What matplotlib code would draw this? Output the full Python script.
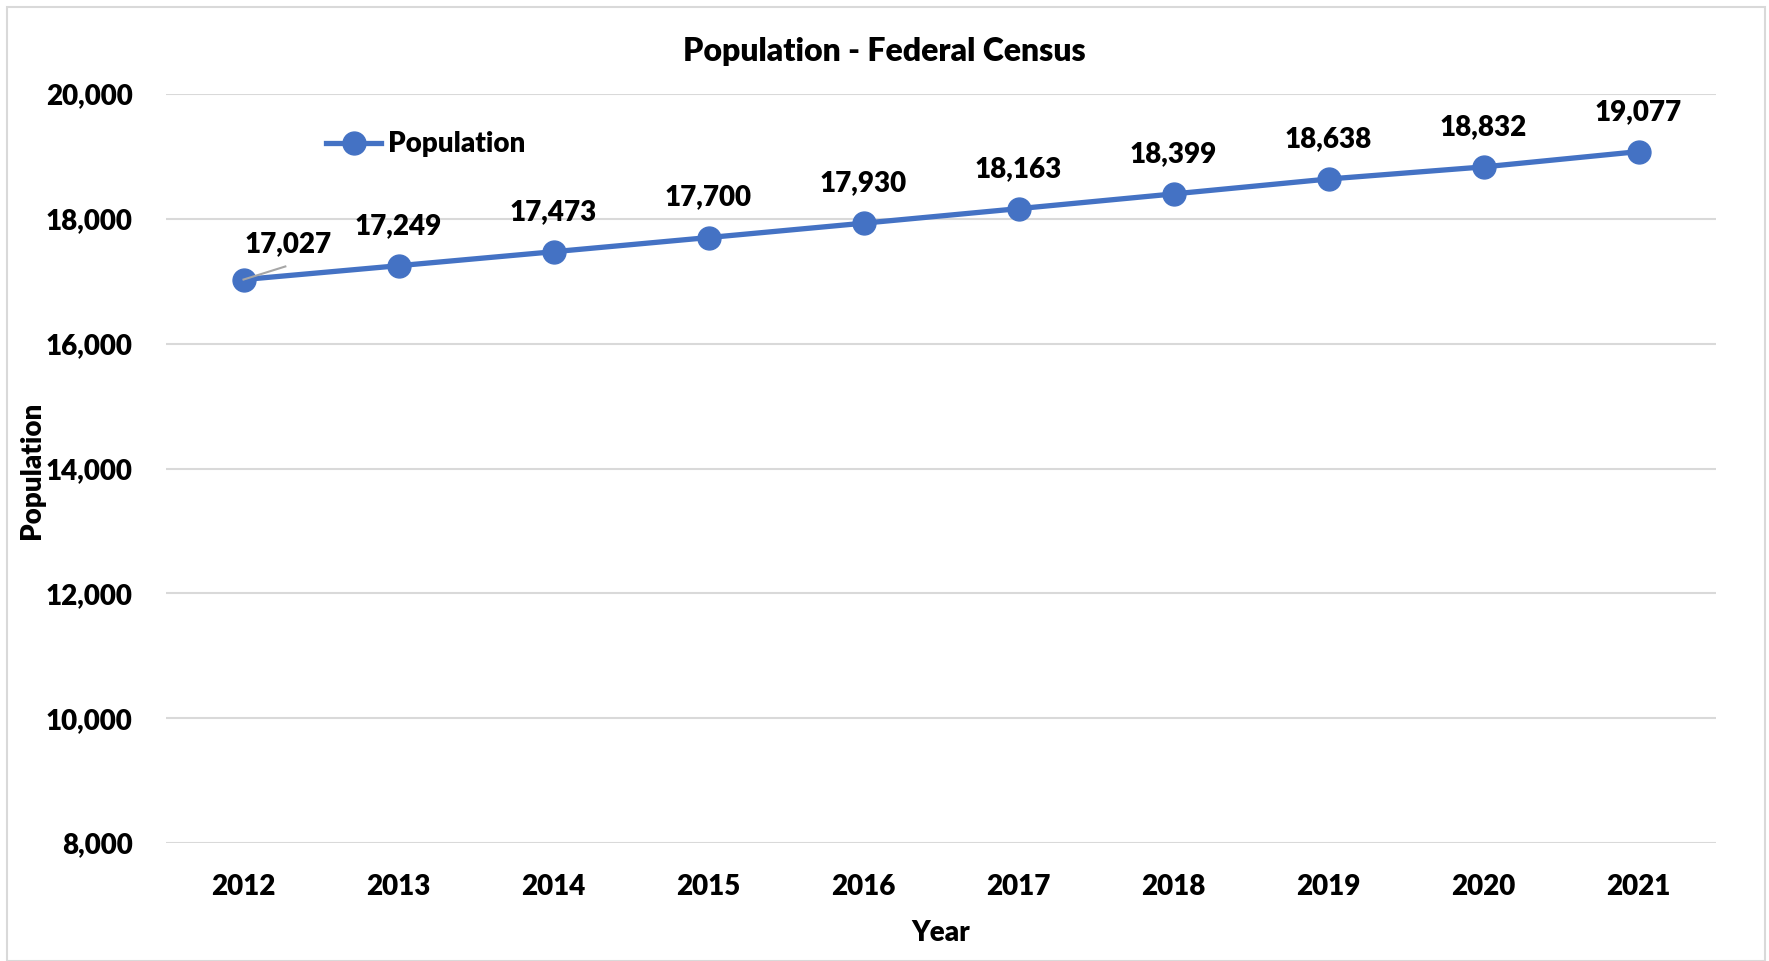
import matplotlib.pyplot as plt

# Данные
years = ['2012', '2013', '2014', '2015', '2016', '2017', '2018', '2019', '2020', '2021']
population = [17027, 17249, 17473, 17700, 17930, 18163, 18399, 18638, 18832, 19077]
y_ticks = [8000, 10000, 12000, 14000, 16000, 18000, 20000]

plt.rcParams['font.family'] = ['Lato', 'DejaVu Sans']
W = 'heavy'
FS = 20

blue = '#4472C4'
fig = plt.figure(figsize=(17.69, 9.61), dpi=100)
ax = fig.add_axes([166 / 1769, 1 - 843 / 961, (1716 - 166) / 1769, (843 - 94) / 961])

x = list(range(len(years)))
ax.plot(x, population, color=blue, lw=3.8, marker='o', ms=16.5, label='Population', zorder=3)

# Подписи значений
for i, v in enumerate(population):
    if i == 0:
        # подпись смещена вправо, с выноской
        lx, ly = i + 0.29, v + 570
        ax.plot([i, lx - 0.02], [v, ly - 360], color='#A6A6A6', lw=1.5, zorder=4)
        ax.text(lx, ly, f'{v:,}', ha='center', va='center', fontsize=FS, fontweight=W)
    else:
        ax.text(i, v + 640, f'{v:,}', ha='center', va='center', fontsize=FS, fontweight=W)

ax.set_xlim(-0.5, len(years) - 0.5)
ax.set_ylim(8000, 20000)
ax.set_yticks(y_ticks)
ax.set_yticklabels([f'{t:,}' for t in y_ticks])
ax.set_xticks(x)
ax.set_xticklabels(years)
ax.tick_params(length=0, labelsize=FS, pad=22)
ax.tick_params(axis='y', pad=24)
for lbl in ax.get_xticklabels() + ax.get_yticklabels():
    lbl.set_fontweight(W)
ax.grid(axis='y', color='#D9D9D9', lw=1.5)
ax.set_axisbelow(True)
for s in ax.spines.values():
    s.set_visible(False)

ax.set_xlabel('Year', fontsize=FS, fontweight=W, labelpad=15)
fig.text(32 / 1769, 1 - 470 / 961, 'Population', rotation=90, ha='center', va='center',
         fontsize=FS, fontweight=W)
fig.text(0.5, 1 - 51 / 961, 'Population - Federal Census', ha='center', va='center',
         fontsize=23, fontweight=W)

leg = ax.legend(loc='upper left', bbox_to_anchor=(0.096, 0.965), frameon=False,
                prop={'size': FS, 'weight': W}, handlelength=2.0, handletextpad=0.25, borderaxespad=0)

# Рамка вокруг диаграммы
fig.patches.append(plt.Rectangle((7 / 1769, 0), 1 - 11 / 1769, 1 - 7 / 961, transform=fig.transFigure,
                                 fill=False, edgecolor='#D9D9D9', lw=1.5))

fig.savefig('out.png', dpi=100)
